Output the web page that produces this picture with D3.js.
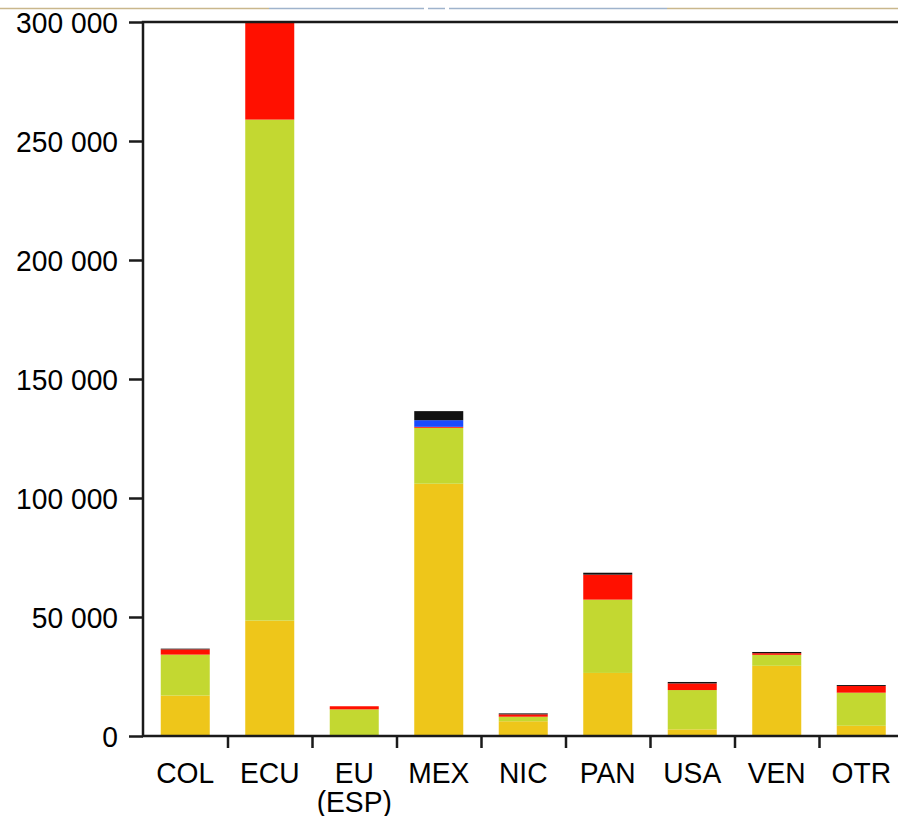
<!DOCTYPE html>
<html>
<head>
<meta charset="utf-8">
<script src="https://cdn.jsdelivr.net/npm/d3@7"></script>
<style>
  body { margin: 0; background: #fff; }
  text { font-family: "Liberation Sans", Arial, sans-serif; }
</style>
</head>
<body>
<div id="chart"></div>
<script>
// categories and stacked series
const categories = ["COL", "ECU", "EU\n(ESP)", "MEX", "NIC", "PAN", "USA", "VEN", "OTR"];
const yellowVals = [17000, 48500, 0, 106000, 6200, 26500, 2800, 29500, 4300];
const greenVals = [17200, 210500, 11200, 23500, 1900, 30800, 16500, 4600, 13900];
const redVals = [2200, 41000, 1300, 400, 1000, 10500, 2800, 700, 2800];
const blueVals = [0, 0, 0, 2800, 0, 0, 0, 0, 0];
const blackVals = [300, 0, 0, 3800, 400, 800, 600, 500, 400];
const yTicks = [0, 50000, 100000, 150000, 200000, 250000, 300000];

const seriesKeys = ["yellow", "green", "red", "blue", "black"];
const seriesColors = ["#EEC61A", "#C3D831", "#FF1000", "#1A4BFF", "#111111"];

const rows = categories.map((c, i) => ({
    cat: c,
    yellow: yellowVals[i],
    green: greenVals[i],
    red: redVals[i],
    blue: blueVals[i],
    black: blackVals[i]
}));

const W = 898, H = 816;
const plotLeft = 143, plotTop = 22, plotBottom = 736, plotRight = 903.5;
const sx = 0.94; // text in the picture is a bit narrow / tall

const svg = d3.select("#chart").append("svg")
    .attr("width", W)
    .attr("height", H);

// thin decorative line at the very top (slide header)
const headerLine = [
    { x0: 0, x1: 269, c: "#c9b78c" },
    { x0: 269, x1: 424, c: "#9fb3cc" },
    { x0: 428, x1: 445, c: "#9fb3cc" },
    { x0: 449, x1: 667, c: "#9fb3cc" },
    { x0: 667, x1: 898, c: "#c9b78c" }
];
svg.selectAll(".hdr")
    .data(headerLine)
    .enter().append("line")
    .attr("x1", d => d.x0).attr("x2", d => d.x1)
    .attr("y1", 8.5).attr("y2", 8.5)
    .attr("stroke", d => d.c)
    .attr("stroke-width", 1.5);

const x = d3.scaleBand()
    .domain(categories)
    .range([plotLeft, plotRight])
    .paddingInner(0.42)
    .paddingOuter(0.21);

const y = d3.scaleLinear()
    .domain([0, 300000])
    .range([plotBottom, plotTop]);

const color = d3.scaleOrdinal()
    .domain(seriesKeys)
    .range(seriesColors);

const series = d3.stack().keys(seriesKeys)(rows);

svg.append("clipPath").attr("id", "clip")
    .append("rect")
    .attr("x", plotLeft).attr("y", plotTop)
    .attr("width", W - plotLeft).attr("height", plotBottom - plotTop);

svg.append("g")
    .attr("clip-path", "url(#clip)")
    .selectAll(".series")
    .data(series)
    .enter().append("g")
    .attr("class", "series")
    .attr("fill", d => color(d.key))
    .selectAll("rect")
    .data(d => d)
    .enter().append("rect")
    .attr("x", d => x(d.data.cat))
    .attr("y", d => y(d[1]))
    .attr("height", d => y(d[0]) - y(d[1]))
    .attr("width", x.bandwidth());

// y axis
const fmt = v => d3.format(",")(v).replace(/,/g, " ");
const yAxis = svg.append("g")
    .attr("transform", `translate(${plotLeft},0)`)
    .call(d3.axisLeft(y).tickValues(yTicks).tickFormat(fmt).tickSize(14).tickPadding(10));
yAxis.select(".domain").remove();
yAxis.selectAll("line").attr("stroke", "#1a1a1a").attr("stroke-width", 2.5);
yAxis.selectAll("text")
    .style("font-size", "30px")
    .attr("fill", "#000")
    .attr("x", -25 / sx)
    .attr("dy", "0.34em")
    .attr("transform", `scale(${sx},1)`);

// x axis: tick marks between categories
const xb = d3.scaleLinear().domain([0, categories.length]).range([plotLeft, plotRight]);
const xAxis = svg.append("g")
    .attr("transform", `translate(0,${plotBottom})`)
    .call(d3.axisBottom(xb).tickValues(d3.range(1, categories.length)).tickFormat("").tickSize(12));
xAxis.select(".domain").remove();
xAxis.selectAll("line").attr("stroke", "#1a1a1a").attr("stroke-width", 2.5);

// frame: left, top and bottom lines
svg.append("path")
    .attr("d", `M${W},${plotTop}H${plotLeft}V${plotBottom}H${W}`)
    .attr("fill", "none")
    .attr("stroke", "#1a1a1a")
    .attr("stroke-width", 2.5);

// category labels
const labels = svg.selectAll(".xlab")
    .data(categories)
    .enter().append("text")
    .attr("class", "xlab")
    .attr("text-anchor", "middle")
    .attr("transform", `scale(${sx},1)`)
    .style("font-size", "30px")
    .attr("fill", "#000");
labels.each(function(d) {
    const t = d3.select(this);
    d.split("\n").forEach((line, i) => {
        t.append("tspan")
            .attr("x", (x(d) + x.bandwidth() / 2) / sx)
            .attr("y", 783 + i * 29)
            .text(line);
    });
});
</script>
</body>
</html>
